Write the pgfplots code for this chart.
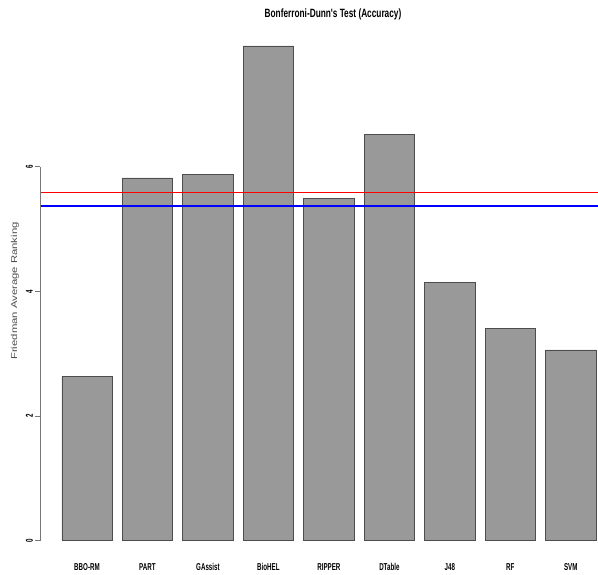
\documentclass[border=0pt]{standalone}
\usepackage{pgfplots}
\pgfplotsset{compat=1.18}
\usepackage{fontspec}
\setmainfont{Liberation Sans}
\newfontfamily\condfont{Liberation Sans}[FakeStretch=0.62]
\newfontfamily\titlefont{Liberation Sans}[FakeStretch=0.69]
\newfontfamily\widefont{Liberation Sans}[FakeStretch=1.33]
\definecolor{barfill}{HTML}{999999}
\definecolor{baredge}{HTML}{4D4D4D}
\definecolor{axisgray}{HTML}{777777}
\begin{document}
\begin{tikzpicture}[x=1pt,y=1pt]
\begin{axis}[
  at={(40.4pt,13.4pt)}, anchor=south west,
  scale only axis, width=557.6pt, height=534.7pt,
  xmin=-0.224, xmax=10.84, ymin=-0.32, ymax=8.26,
  axis lines=left, axis line style={draw=none},
  clip=false,
  xtick={0.7,1.9,3.1,4.3,5.5,6.7,7.9,9.1,10.3},
  xticklabels={BBO-RM,PART,GAssist,BioHEL,RIPPER,DTable,J48,RF,SVM},
  xtick style={draw=none},
  xticklabel style={font=\fontsize{10}{10}\condfont\bfseries, anchor=base, yshift=-4.4pt},
  ytick={0,2,4,6},
  ytick style={draw=axisgray, line width=0.7pt},
  major tick length=5pt,
  tick align=outside,
  /pgf/number format/assume math mode=true,
  yticklabel style={font=\fontsize{10}{10}\condfont\bfseries, rotate=90, anchor=center, yshift=6pt},
]
\addplot[ybar, bar width=1, fill=barfill, draw=baredge, line width=0.5pt]
  coordinates {(0.7,2.64) (1.9,5.82) (3.1,5.88) (4.3,7.94) (5.5,5.49) (6.7,6.52) (7.9,4.15) (9.1,3.41) (10.3,3.06)};
\addplot[red, line width=1.3pt] coordinates {(-0.224,5.59) (10.84,5.59)};
\addplot[blue, line width=1.3pt] coordinates {(-0.224,5.37) (10.84,5.37)};
\draw[axisgray, line width=0.8pt] (axis cs:-0.224,0) -- (axis cs:-0.224,6);
\end{axis}
\node[font=\fontsize{12}{12}\titlefont\bfseries] at (333pt,560pt) {Bonferroni-Dunn's Test (Accuracy)};
\node[font=\fontsize{8.5}{8.5}\widefont, text=black!70, rotate=90] at (15pt,283pt) {Friedman Average Ranking};
\pgfresetboundingbox
\useasboundingbox (0,0) rectangle (598pt,574pt);
\end{tikzpicture}
\end{document}
